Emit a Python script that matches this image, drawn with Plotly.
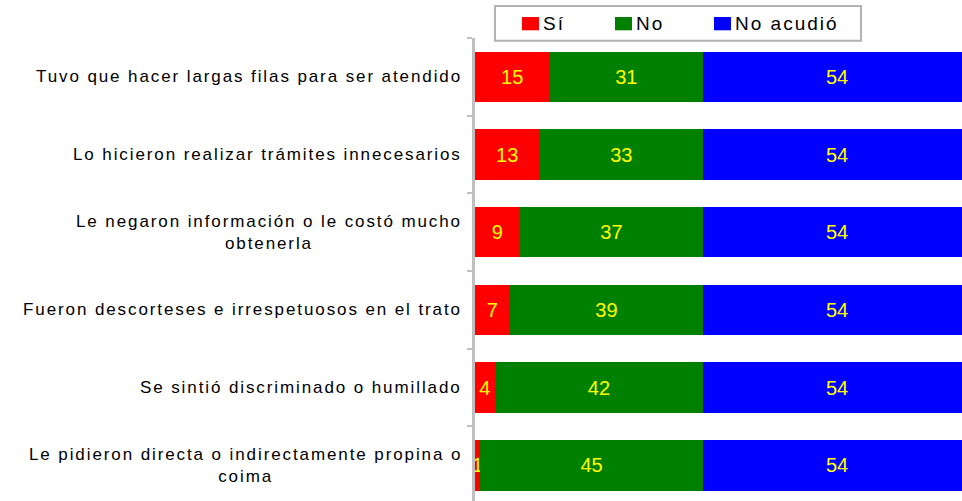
import plotly.graph_objects as go

categories = [
    "Tuvo que hacer largas filas para ser atendido",
    "Lo hicieron realizar trámites innecesarios",
    "Le negaron información o le costó mucho<br>obtenerla",
    "Fueron descorteses e irrespetuosos en el trato",
    "Se sintió discriminado o humillado",
    "Le pidieron directa o indirectamente propina o<br>coima",
]
si = [15, 13, 9, 7, 4, 1]
no = [31, 33, 37, 39, 42, 45]
no_acudio = [54, 54, 54, 54, 54, 54]
series_names = ["Sí", "No", "No acudió"]
series_colors = ["#FF0000", "#008000", "#0000FF"]
series_values = [si, no, no_acudio]

W, H = 962, 501
ML, MT = 475, 38
PW, PH = W - ML, H - MT


def px_x(px):
    return (px - ML) / PW


def px_y(py):
    return (H - py) / PH


def spaced(txt, sp):
    return "<br>".join(f'<span style="letter-spacing:{sp}px">{p}</span>' for p in txt.split("<br>"))


fig = go.Figure()
for name, vals, color in zip(series_names, series_values, series_colors):
    fig.add_trace(go.Bar(
        y=categories, x=vals, name=name, orientation="h",
        marker=dict(color=color, line=dict(width=0)),
        text=[str(v) for v in vals], textposition="inside",
        insidetextanchor="middle", textangle=0,
        textfont=dict(color="#FFFF00", size=20, family="Liberation Sans, Arial"),
        showlegend=False,
    ))

# category labels (centered multi-line, right-aligned block)
for c in categories:
    fig.add_annotation(
        x=0, xref="paper", y=c, yref="y", text=spaced(c, 1.9), showarrow=False,
        xanchor="right", align="center", xshift=-11,
        font=dict(family="Liberation Sans, Arial", size=17, color="#000000"),
    )

# legend box
fig.add_shape(type="rect", xref="paper", yref="paper",
              x0=px_x(495), x1=px_x(861), y0=px_y(6), y1=px_y(40.7),
              line=dict(color="#B3B3B3", width=2), fillcolor="white", layer="above")
leg_sq_x = [522, 615, 714]
for name, color, sx in zip(series_names, series_colors, leg_sq_x):
    fig.add_shape(type="rect", xref="paper", yref="paper",
                  x0=px_x(sx), x1=px_x(sx + 17), y0=px_y(17), y1=px_y(30.3),
                  line=dict(width=0), fillcolor=color, layer="above")
    fig.add_annotation(
        x=px_x(sx + 19), xref="paper", y=px_y(23.7), yref="paper",
        text=spaced(name, 2), showarrow=False, xanchor="left", yanchor="middle",
        font=dict(family="Liberation Sans, Arial", size=19, color="#000000"),
    )

fig.update_layout(
    width=W, height=H,
    margin=dict(l=ML, r=0, t=MT, b=0, pad=0),
    barmode="stack", bargap=0.35,
    plot_bgcolor="white", paper_bgcolor="white",
    uniformtext=dict(minsize=20, mode="show"),
    showlegend=False,
    xaxis=dict(range=[0, 98.2], visible=False, fixedrange=True),
    yaxis=dict(
        categoryorder="array", categoryarray=categories,
        range=[5.46, -0.5], showticklabels=False,
        showline=True, linecolor="#BFBFBF", linewidth=3,
        ticks="outside", tickson="boundaries", ticklen=5, tickwidth=2, tickcolor="#BFBFBF",
        showgrid=False, zeroline=False,
    ),
)

fig.write_html(
    "out.html",
    config={"displayModeBar": False},
    post_script="document.body.style.margin='0';document.body.style.overflow='hidden';",
)
